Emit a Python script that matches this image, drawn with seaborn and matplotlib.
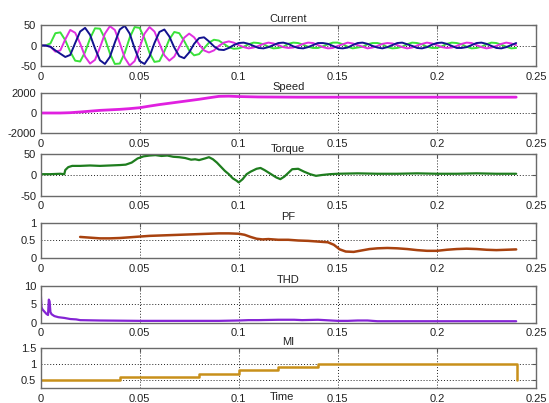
import matplotlib
matplotlib.use("Agg")
import matplotlib.pyplot as plt
import seaborn as sns

sns.set_style("white")
plt.rcParams["font.family"] = ["Liberation Sans", "DejaVu Sans"]

# ---- data ----
# current samples (time in ms)
t_current_ms = [
    0, 2.5, 5, 7.5, 10, 12.5, 15, 17.5,
    20, 22.5, 25, 27.5, 30, 32.5, 35, 37.5,
    40, 42.5, 45, 47.5, 50, 52.5, 55, 57.5,
    60, 62.5, 65, 67.5, 70, 72.5, 75, 77.5,
    80, 82.5, 85, 87.5, 90, 92.5, 95, 97.5,
    100, 102.5, 105, 107.5, 110, 112.5, 115, 117.5,
    120, 122.5, 125, 127.5, 130, 132.5, 135, 137.5,
    140, 142.5, 145, 147.5, 150, 152.5, 155, 157.5,
    160, 162.5, 165, 167.5, 170, 172.5, 175, 177.5,
    180, 182.5, 185, 187.5, 190, 192.5, 195, 197.5,
    200, 202.5, 205, 207.5, 210, 212.5, 215, 217.5,
    220, 222.5, 225, 227.5, 230, 232.5, 235, 237.5,
    240,
]
i_green = [
    0, 0, 5, 30, 32, 13, -15, -37,
    -39, -16, 17, 42, 41, 17, -19, -45,
    -44, -18, 19, 45, 43, 17, -18, -40,
    -38, -14, 15, 33, 30, 11, -12, -24,
    -21, -7, 7, 14, 12, 4, -4, -8,
    -7, -3, 3, 7, 6, 3, -3, -7,
    -6, -3, 4, 7, 6, 2, -3, -6,
    -6, -2, 3, 7, 7, 3, -3, -7,
    -5, -3, 3, 6, 6, 3, -4, -7,
    -6, -3, 3, 7, 6, 3, -3, -6,
    -6, -2, 4, 7, 6, 3, -3, -7,
    -6, -3, 3, 7, 6, 2, -3, -7,
    -6,
]
i_magenta = [
    0, 0, -3, -15, -12, 15, 38, 31,
    5, -27, -44, -35, -5, 29, 47, 38,
    6, -30, -49, -38, -5, 29, 45, 34,
    5, -24, -37, -27, -4, 19, 29, 20,
    3, -12, -17, -12, -1, 7, 10, 7,
    1, -4, -7, -5, -1, 4, 7, 5,
    1, -4, -6, -5, -1, 4, 7, 6,
    1, -4, -7, -6, -1, 3, 7, 5,
    1, -3, -7, -5, -1, 4, 6, 5,
    1, -4, -7, -5, 0, 4, 7, 5,
    1, -4, -6, -5, -1, 4, 7, 6,
    1, -4, -7, -5, -1, 4, 7, 5,
    1,
]
i_blue = [
    0, 0, -3, -12, -20, -28, -23, 6,
    34, 43, 26, -7, -36, -45, -28, 7,
    39, 48, 29, -7, -38, -45, -27, 6,
    33, 39, 22, -5, -26, -31, -17, 4,
    18, 20, 10, -2, -10, -11, -6, 1,
    6, 7, 4, -1, -6, -7, -4, 1,
    6, 7, 4, -2, -6, -7, -4, 1,
    6, 6, 4, -1, -6, -7, -5, 1,
    6, 7, 4, -1, -5, -7, -4, 1,
    6, 7, 3, -1, -6, -7, -4, 2,
    6, 7, 4, -1, -6, -6, -4, 1,
    6, 7, 4, -1, -6, -7, -4, 1,
    6,
]

speed_t = [0, 0.01, 0.015, 0.02, 0.025, 0.03, 0.035, 0.04, 0.045, 0.05,
           0.055, 0.06, 0.065, 0.07, 0.075, 0.08, 0.085, 0.09, 0.095, 0.1,
           0.105, 0.11, 0.12, 0.13, 0.14, 0.15, 0.24]
speed_v = [0, 0, 30, 100, 180, 260, 310, 360, 430, 520,
           680, 830, 960, 1090, 1220, 1350, 1500, 1640, 1660, 1620,
           1600, 1580, 1570, 1560, 1560, 1560, 1560]

torque_t = [0, 0.005, 0.01, 0.012, 0.0125, 0.014, 0.016, 0.02, 0.025, 0.03,
            0.035, 0.04, 0.043, 0.046, 0.049, 0.052, 0.055, 0.058, 0.061, 0.064,
            0.067, 0.07, 0.073, 0.076, 0.078, 0.08, 0.083, 0.085, 0.087, 0.089,
            0.091, 0.093, 0.095, 0.097, 0.099, 0.1, 0.102, 0.104, 0.106, 0.109,
            0.111, 0.113, 0.115, 0.117, 0.119, 0.121, 0.123, 0.125, 0.127, 0.13,
            0.133, 0.136, 0.139, 0.142, 0.146, 0.15, 0.16, 0.17, 0.18, 0.19,
            0.2, 0.21, 0.22, 0.23, 0.24]
torque_v = [2, 2, 3, 2, 12, 19, 22, 22, 23, 22,
            23, 24, 25, 30, 40, 45, 47, 48, 46, 47,
            44, 43, 41, 37, 38, 36, 40, 43, 38, 30,
            20, 10, 2, -8, -14, -18, -10, 2, 8, 15,
            17, 12, 6, 0, -6, -10, -4, 5, 14, 15,
            8, 2, -2, 0, 2, 3, 4, 3, 3, 4,
            3, 3, 4, 3, 3]

pf_t = [0.02, 0.025, 0.03, 0.035, 0.04, 0.045, 0.05, 0.055, 0.06, 0.065,
        0.07, 0.075, 0.08, 0.085, 0.09, 0.095, 0.1, 0.103, 0.106, 0.109,
        0.112, 0.115, 0.12, 0.125, 0.13, 0.135, 0.14, 0.145, 0.148, 0.151,
        0.154, 0.158, 0.162, 0.166, 0.17, 0.175, 0.18, 0.185, 0.19, 0.195,
        0.2, 0.205, 0.21, 0.215, 0.22, 0.225, 0.23, 0.235, 0.24]
pf_v = [0.6, 0.58, 0.56, 0.56, 0.57, 0.59, 0.61, 0.63, 0.64, 0.65,
        0.66, 0.67, 0.68, 0.69, 0.70, 0.70, 0.69, 0.66, 0.6, 0.55,
        0.53, 0.54, 0.52, 0.52, 0.5, 0.49, 0.47, 0.45, 0.38, 0.25,
        0.19, 0.18, 0.22, 0.26, 0.28, 0.29, 0.28, 0.26, 0.23, 0.21,
        0.21, 0.24, 0.26, 0.27, 0.26, 0.24, 0.23, 0.24, 0.25]

thd_t = [0, 0.0005, 0.001, 0.002, 0.003, 0.0038, 0.0042, 0.0046, 0.005, 0.0056,
         0.007, 0.009, 0.012, 0.015, 0.018, 0.02, 0.03, 0.05, 0.07, 0.09,
         0.1, 0.105, 0.11, 0.12, 0.128, 0.132, 0.14, 0.15, 0.155, 0.16,
         0.165, 0.17, 0.2, 0.24]
thd_v = [9.5, 4.2, 3.6, 3.0, 2.4, 2.1, 6.3, 5.8, 2.9, 2.3,
         1.8, 1.5, 1.3, 1.0, 0.9, 0.7, 0.6, 0.5, 0.5, 0.5,
         0.6, 0.7, 0.7, 0.8, 0.8, 0.7, 0.8, 0.5, 0.5, 0.6,
         0.6, 0.4, 0.4, 0.4]

mi_t = [0, 0.04, 0.08, 0.1, 0.12, 0.14, 0.2405, 0.2405]
mi_v = [0.52, 0.6, 0.68, 0.8, 0.9, 1.0, 1.0, 0.5]

titles = ["Current", "Speed", "Torque", "PF", "THD", "MI"]
xticks = [0, 0.05, 0.1, 0.15, 0.2, 0.25]
xtick_labels = ["0", "0.05", "0.1", "0.15", "0.2", "0.25"]
yticks = [[-50, 0, 50], [-2000, 0, 2000], [-50, 0, 50], [0, 0.5, 1], [0, 5, 10], [0.5, 1, 1.5]]
ytick_labels = [["-50", "0", "50"], ["-2000", "0", "2000"], ["-50", "0", "50"],
                ["0", "0.5", "1"], ["0", "5", "10"], ["0.5", "1", "1.5"]]
ylims = [(-50, 50), (-2000, 2000), (-50, 50), (0, 1), (0, 10), (0.25, 1.5)]

# ---- figure ----
W, H = 549, 403
fig = plt.figure(figsize=(W / 100, H / 100), dpi=100)
# axes boxes in pixels: (top, bottom)
boxes = [(25, 66), (92.7, 133.3), (154.3, 195.7), (222.7, 258.3), (286, 322.7), (347.7, 388.3)]
left_px, right_px = 40.5, 536
axes = []
for top, bot in boxes:
    ax = fig.add_axes([left_px / W, 1 - bot / H, (right_px - left_px) / W, (bot - top) / H])
    axes.append(ax)

t_current = [v / 1000 for v in t_current_ms]
sns.lineplot(x=t_current, y=i_green, ax=axes[0], color="#3ae23a", lw=1.4, estimator=None, sort=False)
sns.lineplot(x=t_current, y=i_magenta, ax=axes[0], color="#e030e0", lw=1.4, estimator=None, sort=False)
sns.lineplot(x=t_current, y=i_blue, ax=axes[0], color="#12128f", lw=1.4, estimator=None, sort=False)
sns.lineplot(x=speed_t, y=speed_v, ax=axes[1], color="#e020e0", lw=2, estimator=None, sort=False)
sns.lineplot(x=torque_t, y=torque_v, ax=axes[2], color="#1e7d1e", lw=1.6, estimator=None, sort=False)
sns.lineplot(x=pf_t, y=pf_v, ax=axes[3], color="#a8420f", lw=1.8, estimator=None, sort=False)
sns.lineplot(x=thd_t, y=thd_v, ax=axes[4], color="#8424d4", lw=1.6, estimator=None, sort=False)
sns.lineplot(x=mi_t, y=mi_v, ax=axes[5], color="#c8901a", lw=1.8, estimator=None, sort=False,
             drawstyle="steps-post")

for i, ax in enumerate(axes):
    ax.set_xlim(0, 0.25)
    ax.set_ylim(*ylims[i])
    ax.set_xticks(xticks)
    ax.set_xticklabels(xtick_labels)
    ax.set_yticks(yticks[i])
    ax.set_yticklabels(ytick_labels[i])
    ax.grid(True, color="#222222", linestyle=(0, (1, 2)), lw=0.7)
    ax.tick_params(direction="in", length=3, width=0.8, color="#555555",
                   top=True, right=True, labelsize=8, labelcolor="#222222")
    ax.tick_params(axis="x", pad=4)
    ax.tick_params(axis="y", pad=3)
    for s in ax.spines.values():
        s.set_color("#6a6a6a")
        s.set_linewidth(1.0)
    ax.set_title(titles[i], fontsize=8, pad=2, color="#222222")
    ax.set_xlabel("")
    ax.set_ylabel("")

# "Time" sits on the tick-label row, like the titles of the panels above
axes[-1].set_xlabel("Time", fontsize=8, color="#222222")
axes[-1].xaxis.set_label_coords(0.487, -0.1)

fig.savefig("out.png", dpi=100)
